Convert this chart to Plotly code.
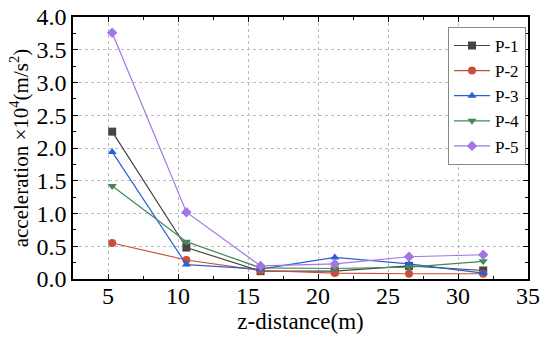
import plotly.graph_objects as go

z_distance = [5.3, 10.6, 15.9, 21.2, 26.5, 31.8]
series_names = ["P-1", "P-2", "P-3", "P-4", "P-5"]
p1 = [2.25, 0.48, 0.12, 0.12, 0.20, 0.13]
p2 = [0.55, 0.29, 0.13, 0.09, 0.08, 0.08]
p3 = [1.94, 0.22, 0.15, 0.33, 0.23, 0.09]
p4 = [1.42, 0.57, 0.17, 0.16, 0.18, 0.27]
p5 = [3.76, 1.02, 0.20, 0.23, 0.34, 0.37]
x_ticks = [5, 10, 15, 20, 25, 30, 35]
y_ticks = [0.0, 0.5, 1.0, 1.5, 2.0, 2.5, 3.0, 3.5, 4.0]

colors = ["#454545", "#c8503a", "#2a5fd6", "#3f8a55", "#a475e0"]
symbols = ["square", "circle", "triangle-up", "triangle-down", "diamond"]
values = [p1, p2, p3, p4, p5]

fig = go.Figure()
for name, ys, c, s in zip(series_names, values, colors, symbols):
    fig.add_trace(go.Scatter(
        x=z_distance, y=ys, name=name, mode="lines+markers",
        line=dict(color=c, width=1.2),
        marker=dict(symbol=s, size=8, color=c),
    ))

font = "Liberation Serif, Times New Roman, serif"
axis_common = dict(
    showline=True, linecolor="black", linewidth=1.5, mirror="ticks",
    ticks="inside", ticklen=5, tickwidth=1.2, tickcolor="black",
    showgrid=True, gridcolor="#bbbbbb", griddash="dot", gridwidth=1,
    zeroline=False, automargin=False, ticklabeloverflow="allow",
    tickfont=dict(family=font, size=24, color="black"),
)
fig.update_xaxes(
    range=[2.5, 35], tickvals=x_ticks, ticktext=[str(v) for v in x_ticks],
    ticklabelstandoff=-6,
    minor=dict(ticks="inside", ticklen=3, tickcolor="black", dtick=2.5, showgrid=False),
    title=dict(text="z-distance(m)", font=dict(family=font, size=23, color="black"), standoff=0),
    **axis_common,
)
fig.update_yaxes(
    range=[0, 4.0], tickvals=y_ticks, ticktext=[f"{v:.1f}" for v in y_ticks],
    minor=dict(ticks="inside", ticklen=3, tickcolor="black", dtick=0.25, showgrid=False),
    title=dict(text="acceleration ×10<sup>4</sup>(m/s<sup>2</sup>)",
               font=dict(family=font, size=21, color="black"), standoff=2),
    **axis_common,
)
fig.update_layout(
    width=550, height=339,
    margin=dict(l=73, r=22, t=17, b=60),
    paper_bgcolor="white", plot_bgcolor="white",
    showlegend=True,
    legend=dict(
        x=0.9956, y=0.962, xanchor="right", yanchor="top",
        bordercolor="#888888", borderwidth=1, bgcolor="white",
        font=dict(family=font, size=17, color="black"),
        itemwidth=36, tracegroupgap=0,
    ),
)
fig.write_html(
    "out.html",
    config={"displayModeBar": False},
    post_script="document.body.style.margin='0';document.body.style.overflow='hidden';",
)
